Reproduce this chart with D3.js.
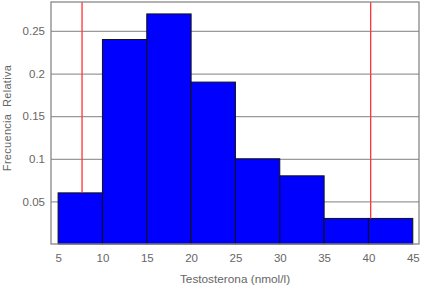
<!DOCTYPE html>
<html><head><meta charset="utf-8">
<script src="https://cdn.jsdelivr.net/npm/d3@7"></script>
<style>body{margin:0;background:#fff}svg{display:block}text{font-family:"Liberation Sans",Arial,sans-serif}</style>
</head><body><svg id="c" width="422" height="290"></svg>
<script>
const binStarts = [5,10,15,20,25,30,35,40];
const binWidth = 5;
const freqs = [0.06,0.24,0.27,0.19,0.10,0.08,0.03,0.03];
const refLines = [7.7,40.25];
const xTicks = [5,10,15,20,25,30,35,40,45];
const yTicks = [0.05,0.1,0.15,0.2,0.25];

const svg = d3.select("#c");
const L=51,R=419,T=2,B=244;
const x = d3.scaleLinear().domain([4.2,45.7]).range([L,R]);
const y = d3.scaleLinear().domain([0,0.284]).range([B,T]);
svg.append("rect").attr("width",422).attr("height",290).attr("fill","#fff");
// gridlines
svg.append("g").selectAll("line").data(yTicks).join("line")
 .attr("x1",L).attr("x2",R).attr("y1",d=>y(d)+0.5).attr("y2",d=>y(d)+0.5)
 .attr("stroke","#999").attr("stroke-width",1.3);
// bars
svg.append("g").selectAll("rect").data(freqs).join("rect")
 .attr("x",(d,i)=>x(binStarts[i])).attr("width",(d,i)=>x(binStarts[i]+binWidth)-x(binStarts[i]))
 .attr("y",d=>y(d)).attr("height",d=>B-y(d))
 .attr("fill","#0000ff").attr("stroke","#111").attr("stroke-width",1);
// red lines
svg.append("g").selectAll("line").data(refLines).join("line")
 .attr("x1",d=>x(d)).attr("x2",d=>x(d)).attr("y1",T).attr("y2",(d,i)=>{
   const idx = binStarts.findIndex(s=>d>=s && d<s+binWidth);
   return idx>=0? y(freqs[idx]) : B;})
 .attr("stroke","#ff3333").attr("stroke-width",1.3);
// frame
svg.append("rect").attr("x",L).attr("y",T).attr("width",R-L).attr("height",B-T)
 .attr("fill","none").attr("stroke","#888").attr("stroke-width",1.3);
// axes
const xa = svg.append("g").attr("transform",`translate(0,${B})`)
 .call(d3.axisBottom(x).tickValues(xTicks).tickSize(0).tickPadding(10).tickFormat(d3.format("d")));
const ya = svg.append("g").attr("transform",`translate(${L},0)`)
 .call(d3.axisLeft(y).tickValues(yTicks).tickSize(0).tickPadding(6).tickFormat(d=>String(d)));
[xa,ya].forEach(a=>{a.select(".domain").remove();a.selectAll("text").attr("fill","#666").attr("font-size","11.5px").attr("font-family","'Liberation Sans',Arial,sans-serif");});
svg.append("text").attr("x",(L+R)/2).attr("y",283).attr("text-anchor","middle")
 .attr("fill","#666").attr("font-size","11.8px").text("Testosterona (nmol/l)");
svg.append("text").attr("transform",`translate(11,118) rotate(-90)`).attr("text-anchor","middle")
 .attr("fill","#666").attr("font-size","11px").attr("letter-spacing","0.3px").attr("xml:space","preserve").style("white-space","pre").text("Frecuencia  Relativa");
</script></body></html>
